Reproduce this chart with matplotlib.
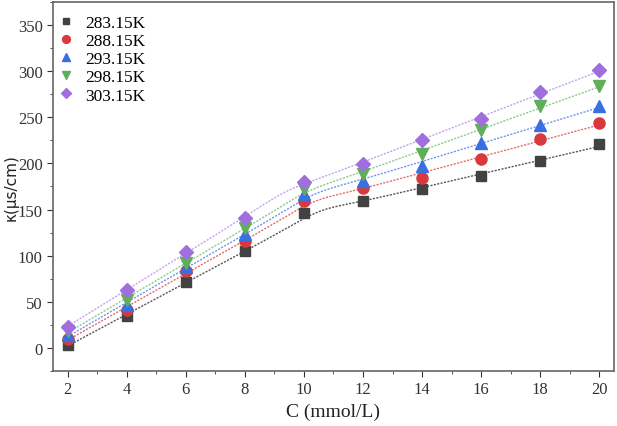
import numpy as np
import matplotlib
matplotlib.use("Agg")
import matplotlib.pyplot as plt
from matplotlib.ticker import MultipleLocator

plt.rcParams['font.family'] = ['Liberation Serif', 'DejaVu Serif']

conc = [2, 4, 6, 8, 10, 12, 14, 16, 18, 20]
k_283 = [3, 35, 71, 105, 146, 159, 172, 186, 203, 221]
k_288 = [10, 41, 83, 116, 159, 173, 184, 205, 226, 244]
k_293 = [14, 46, 88, 123, 167, 181, 197, 222, 242, 262]
k_298 = [18, 52, 92, 130, 172, 189, 210, 236, 262, 284]
k_303 = [23, 63, 104, 141, 180, 199, 225, 248, 277, 301]
labels = ['283.15K', '288.15K', '293.15K', '298.15K', '303.15K']

series = [k_283, k_288, k_293, k_298, k_303]
markers = ['s', 'o', '^', 'v', 'D']
colors = ['#424242', '#d8393c', '#3a6fe0', '#5fae5a', '#a16ee0']
line_colors = ['#555555', '#e66a6a', '#6f96ee', '#8cc98a', '#c3a2f0']
msizes = [7, 8, 8, 8, 7]

fig = plt.figure(figsize=(6.17, 4.27), dpi=100)
ax = fig.add_axes([0.086, 0.129, 0.909, 0.864])

x = np.array(conc, dtype=float)
xs = np.linspace(2, 20, 400)
for ys, m, c, lc, ms, lab in zip(series, markers, colors, line_colors, msizes, labels):
    y = np.array(ys, dtype=float)
    # two linear fits (below / above the break) blended smoothly
    p1 = np.polyfit(x[x <= 8], y[x <= 8], 1)
    p2 = np.polyfit(x[x >= 10], y[x >= 10], 1)
    xc = (p2[1] - p1[1]) / (p1[0] - p2[0])
    w = 1.0 / (1.0 + np.exp(-(xs - xc) / 0.45))
    fit = np.polyval(p1, xs) * (1 - w) + np.polyval(p2, xs) * w
    ax.plot(xs, fit, color=lc, lw=1.0, ls=(0, (1.5, 1)), zorder=2)
    ax.plot(x, y, ls='none', marker=m, color=c, markersize=ms, label=lab, zorder=3)

ax.set_xlim(1.5, 20.5)
ax.set_ylim(-25, 375)
ax.xaxis.set_major_locator(MultipleLocator(2))
ax.xaxis.set_minor_locator(MultipleLocator(1))
ax.yaxis.set_major_locator(MultipleLocator(50))
ax.yaxis.set_minor_locator(MultipleLocator(25))
ax.tick_params(which='both', direction='out', labelsize=12, colors='#333333')
ax.tick_params(which='major', length=4)
ax.tick_params(which='minor', length=2.5)
for s in ax.spines.values():
    s.set_color('#666666')
    s.set_linewidth(1.2)

ax.set_xlabel('C (mmol/L)', fontsize=14, color='#222222')
ax.set_ylabel('κ(μs/cm)', fontsize=11, color='#222222', family=['DejaVu Sans'])
ax.yaxis.set_label_coords(-0.062, 0.5)

ax.legend(loc='upper left', bbox_to_anchor=(-0.005, 0.985), frameon=False,
          fontsize=12.5, handlelength=1.0, handletextpad=0.6, labelspacing=0.12,
          borderaxespad=0.1, borderpad=0.3, markerscale=0.7)

fig.savefig('out.png', dpi=100)
